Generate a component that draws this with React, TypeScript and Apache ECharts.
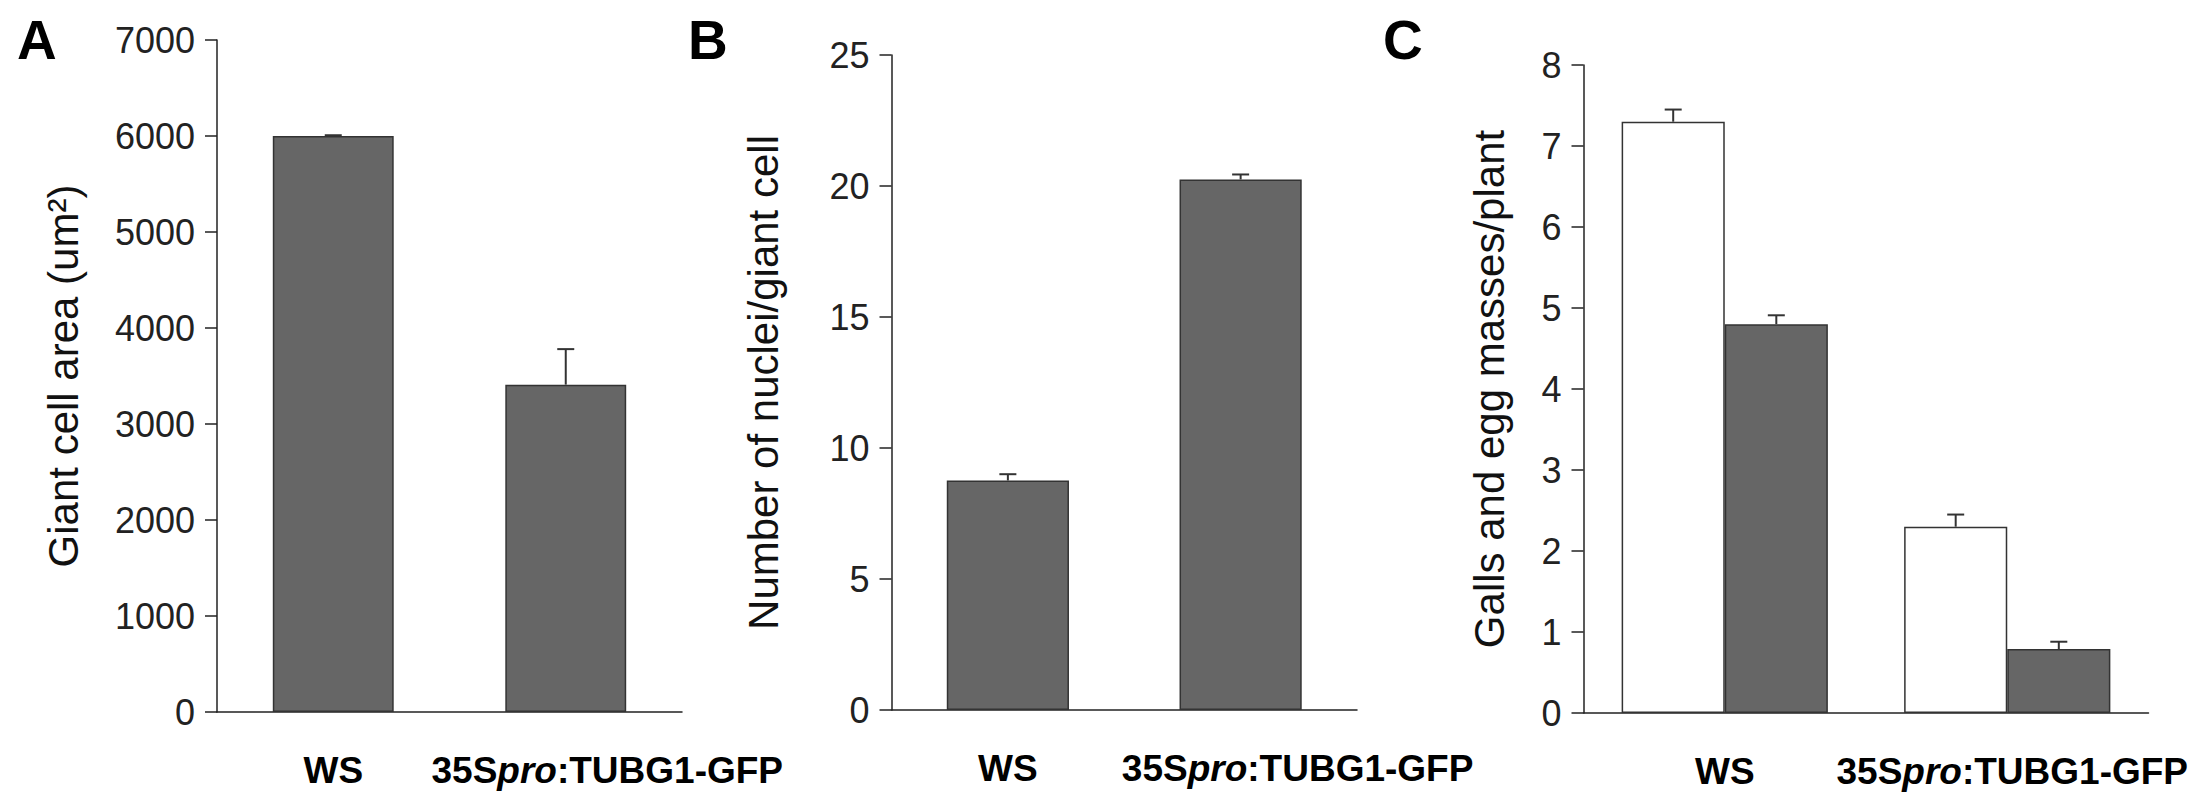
import { useEffect, useRef } from 'react';
import * as echarts from 'echarts';

// categories shared by the three panels
const categories = ['WS', '35Spro:TUBG1-GFP'];

// A: giant cell area (um2)
const areaMean = [6000, 3410];
const areaErr = [8, 370];

// B: nuclei per giant cell
const nucleiMean = [8.76, 20.25];
const nucleiErr = [0.24, 0.19];

// C: galls (white) and egg masses (grey) per plant
const gallsMean = [7.3, 2.3];
const gallsErr = [0.15, 0.15];
const eggMean = [4.8, 0.79];
const eggErr = [0.11, 0.09];

const FONT = '"Liberation Sans", Arial, Helvetica, sans-serif';
const AXIS = '#222';
const BAR = '#666666';
const C_GAP = 0.27; // bar category gap in panel C

// the long label sits a bit right of its category in the original figure
function labelFormatter(v: string) {
  if (v === '35Spro:TUBG1-GFP') return '{pad| }{b|35S}{i|pro}{b|:TUBG1-GFP}';
  return '{b|' + v + '}';
}

function richLabel(pad: number) {
  return {
    pad: { width: pad, fontSize: 37 },
    b: { fontFamily: FONT, fontWeight: 'bold', fontSize: 37, color: '#000' },
    i: { fontFamily: FONT, fontWeight: 'bold', fontStyle: 'italic', fontSize: 37, color: '#000' },
  };
}

function xAxisFor(gridIndex: number, pad: number) {
  return {
    type: 'category', gridIndex, data: categories,
    axisLine: { lineStyle: { color: AXIS, width: 1.5 } },
    axisTick: { length: 14, lineStyle: { color: AXIS, width: 1.5 } },
    axisLabel: { interval: 0, margin: 40, formatter: labelFormatter, rich: richLabel(pad) },
  };
}

function yAxisFor(gridIndex: number, max: number, interval: number, name: string, nameGap: number) {
  return {
    type: 'value', gridIndex, min: 0, max, interval,
    name, nameLocation: 'middle', nameGap,
    nameTextStyle: { fontFamily: FONT, fontSize: 42, color: '#111' },
    axisLine: { show: true, lineStyle: { color: AXIS, width: 1.5 } },
    axisTick: { show: true, length: 12, lineStyle: { color: AXIS, width: 1.5 } },
    axisLabel: { margin: 22, fontFamily: FONT, fontSize: 36, color: '#222', formatter: (v: number) => String(v) },
    splitLine: { show: false },
  };
}

function errorSeries(idx: number, means: number[], errs: number[], offsetFrac: number) {
  return {
    type: 'custom', xAxisIndex: idx, yAxisIndex: idx, z: 5,
    data: means.map((m, i) => [i, m, m + errs[i]]),
    encode: { x: 0, y: [1, 2] },
    renderItem: (_p: any, api: any) => {
      const i = api.value(0);
      const base = api.coord([i, api.value(1)]);
      const top = api.coord([i, api.value(2)]);
      const band = api.size([1, 0])[0];
      const x = base[0] + band * offsetFrac;
      const cap = 8.5;
      const st = { stroke: '#333', lineWidth: 2 };
      return {
        type: 'group',
        children: [
          { type: 'line', shape: { x1: x, y1: base[1], x2: x, y2: top[1] }, style: st },
          { type: 'line', shape: { x1: x - cap, y1: top[1], x2: x + cap, y2: top[1] }, style: st },
        ],
      };
    },
  };
}

function barSeries(idx: number, name: string, data: number[], color: string, extra: object = {}) {
  return {
    type: 'bar', name, xAxisIndex: idx, yAxisIndex: idx, data,
    itemStyle: { color, borderColor: '#333', borderWidth: 1.5 },
    ...extra,
  };
}

export default function App() {
  const ref = useRef<HTMLDivElement>(null);

  useEffect(() => {
    if (!ref.current) return;
    document.body.style.margin = '0';
    const chart = echarts.init(ref.current, undefined, { renderer: 'svg', width: 2208, height: 800 });
    const half = (1 - C_GAP) / 4;

    chart.setOption({
      animation: false,
      backgroundColor: '#fff',
      grid: [
        { left: 217, top: 40, width: 465, height: 672, outerBoundsMode: 'none' },
        { left: 891.5, top: 55, width: 465.5, height: 655, outerBoundsMode: 'none' },
        { left: 1583.5, top: 65, width: 565, height: 648, outerBoundsMode: 'none' },
      ],
      xAxis: [xAxisFor(0, 83), xAxisFor(1, 114), xAxisFor(2, 10)],
      yAxis: [
        yAxisFor(0, 7000, 1000, 'Giant cell area (um²)', 133),
        yAxisFor(1, 25, 5, 'Number of nuclei/giant cell', 107),
        yAxisFor(2, 8, 1, 'Galls and egg masses/plant', 73),
      ],
      series: [
        barSeries(0, 'Giant cell area', areaMean, BAR, { barWidth: '52%' }),
        errorSeries(0, areaMean, areaErr, 0),
        barSeries(1, 'Nuclei', nucleiMean, BAR, { barWidth: '52.5%' }),
        errorSeries(1, nucleiMean, nucleiErr, 0),
        barSeries(2, 'Galls', gallsMean, '#ffffff', { barGap: '0%', barCategoryGap: C_GAP * 100 + '%' }),
        barSeries(2, 'Egg masses', eggMean, BAR, { barGap: '0%', barCategoryGap: C_GAP * 100 + '%' }),
        errorSeries(2, gallsMean, gallsErr, -half),
        errorSeries(2, eggMean, eggErr, half),
      ],
      graphic: [
        { type: 'text', left: 17, top: 12, style: { text: 'A', font: 'bold 55px ' + FONT, fill: '#000' } },
        { type: 'text', left: 688, top: 12, style: { text: 'B', font: 'bold 55px ' + FONT, fill: '#000' } },
        { type: 'text', left: 1383, top: 12, style: { text: 'C', font: 'bold 55px ' + FONT, fill: '#000' } },
      ],
    });

    return () => chart.dispose();
  }, []);

  return <div ref={ref} style={{ position: 'absolute', left: 0, top: 0, width: 2208, height: 800 }} />;
}
